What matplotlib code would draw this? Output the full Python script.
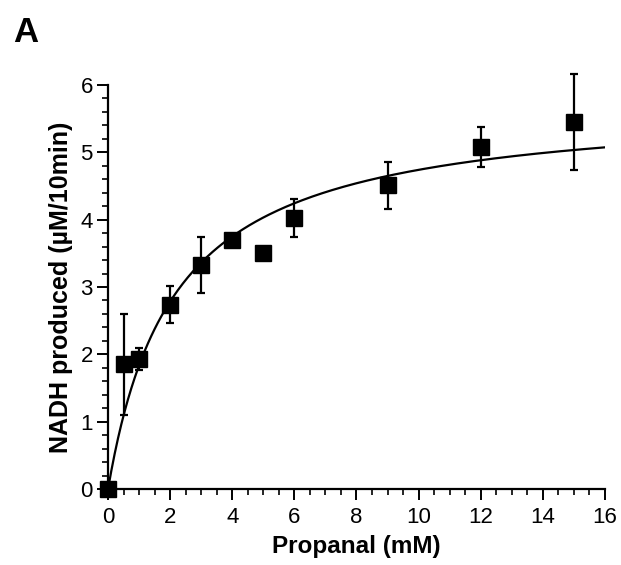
import numpy as np
import matplotlib
matplotlib.use("Agg")
import matplotlib.pyplot as plt
from matplotlib.ticker import MultipleLocator

plt.rcParams['font.family'] = ['Liberation Sans', 'DejaVu Sans']

propanal = [0, 0.5, 1, 2, 3, 4, 5, 6, 9, 12, 15]
nadh = [0.0, 1.85, 1.93, 2.74, 3.33, 3.70, 3.50, 4.03, 4.51, 5.08, 5.45]
fehler = [0.0, 0.75, 0.16, 0.27, 0.42, 0.0, 0.0, 0.28, 0.35, 0.29, 0.71]

# Michaelis-Menten Anpassung
vmax = 5.75
km = 2.13

fig = plt.figure(figsize=(6.21, 5.65), dpi=100)
ax = fig.add_axes([0.174, 0.1345, 0.80, 0.715])

x_fit = np.linspace(0, 16, 300)
ax.plot(x_fit, vmax * x_fit / (km + x_fit), color='black', lw=1.6, zorder=2)

ax.errorbar(propanal, nadh, yerr=fehler, fmt='s', color='black', ms=11,
            elinewidth=1.6, capsize=2.6, capthick=1.6, clip_on=False, zorder=3)

ax.set_xlim(0, 16)
ax.set_ylim(0, 6)
ax.xaxis.set_major_locator(MultipleLocator(2))
ax.xaxis.set_minor_locator(MultipleLocator(0.5))
ax.yaxis.set_major_locator(MultipleLocator(1))
ax.yaxis.set_minor_locator(MultipleLocator(0.2))

for s in ['top', 'right']:
    ax.spines[s].set_visible(False)
for s in ['left', 'bottom']:
    ax.spines[s].set_linewidth(1.6)

ax.tick_params(which='major', length=8, width=1.4, labelsize=16, direction='out', pad=3)
ax.tick_params(axis='x', which='major', pad=5)
ax.tick_params(which='minor', length=4.5, width=1.2, direction='out')

ax.set_xlabel('Propanal (mM)', fontsize=17.5, fontweight='bold', labelpad=5)
ax.set_ylabel('NADH produced (µM/10min)', fontsize=18, fontweight='bold', labelpad=5)

fig.text(0.021, 0.972, 'A', fontsize=25, fontweight='bold', va='top', ha='left')

fig.savefig('out.png', dpi=100)
